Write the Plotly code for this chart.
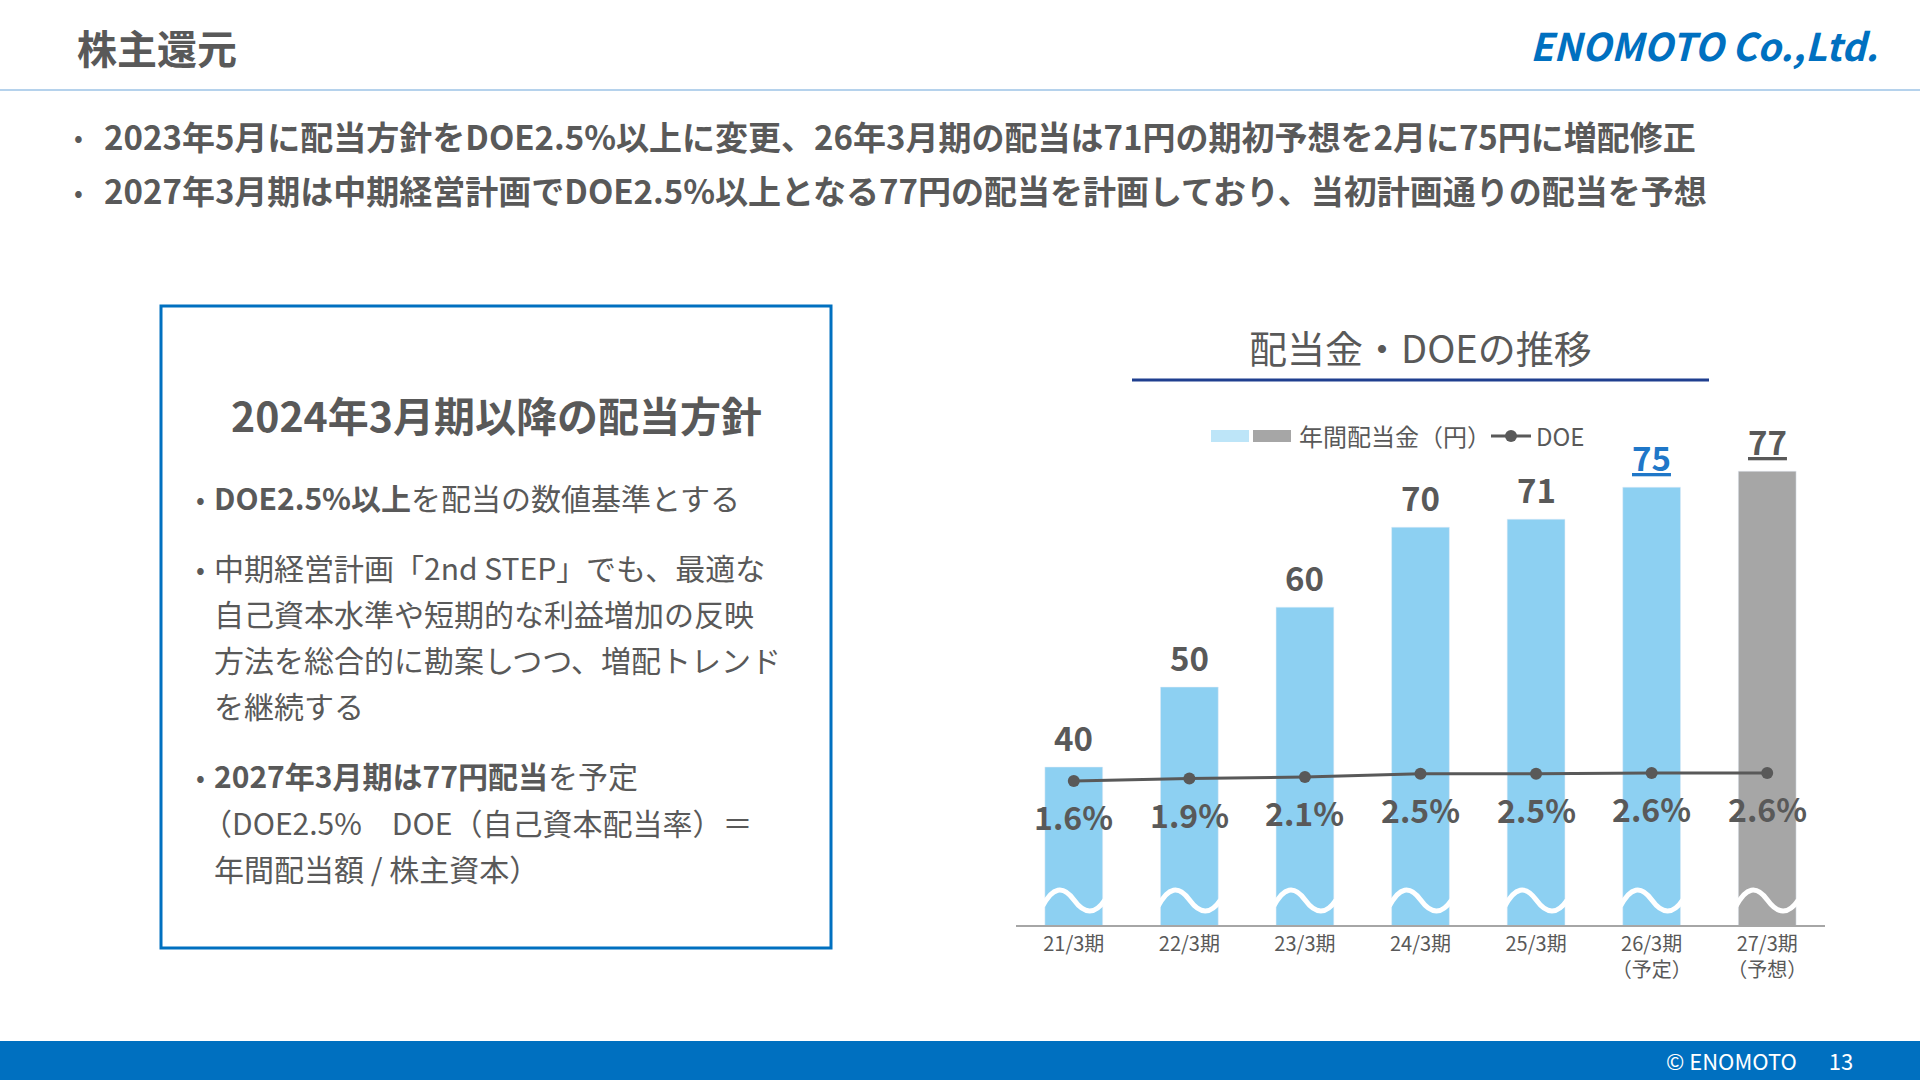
import plotly.graph_objects as go

categories = ['21/3期', '22/3期', '23/3期', '24/3期', '25/3期', '26/3期<br>（予定）', '27/3期<br>（予想）']
dividends = [40, 50, 60, 70, 71, 75, 77]
doe = [1.6, 1.9, 2.1, 2.5, 2.5, 2.6, 2.6]
bar_colors = ['#8DD0F2'] * 6 + ['#A6A6A6']

FONT = 'Noto Sans CJK JP'
GRAY = '#595959'
BLUE = '#0070C0'
W, H = 1920, 1080

xs = list(range(len(categories)))

fig = go.Figure()
fig.add_trace(go.Bar(x=xs, y=dividends, marker_color=bar_colors, width=0.5, showlegend=False,
                     hoverinfo='skip'))
fig.add_trace(go.Scatter(x=xs, y=doe, yaxis='y2', mode='lines+markers',
                         line=dict(color=GRAY, width=3), marker=dict(size=12, color=GRAY),
                         showlegend=False))

# value labels
for i, v in enumerate(dividends):
    if i == 5:
        t, col = f'<u>{v}</u>', '#1F77C8'
    elif i == 6:
        t, col = f'<u>{v}</u>', GRAY
    else:
        t, col = str(v), GRAY
    fig.add_annotation(x=i, y=v, text=f'<b>{t}</b>', showarrow=False, yanchor='bottom', yshift=4,
                       font=dict(size=33, color=col, family=FONT))
for i, d in enumerate(doe):
    fig.add_annotation(x=i, y=d, yref='y2', text=f'<b>{d}%</b>', showarrow=False, yanchor='top',
                       yshift=-10, font=dict(size=32, color=GRAY, family=FONT))

# wave break marks on bars
for i in xs:
    fig.add_shape(type='path', xref='x', yref='y', layer='above',
                  path=f'M {i-0.27},22.6 Q {i-0.14},26.2 {i},23.4 T {i+0.27},23.4',
                  line=dict(color='white', width=5))


def box(**kw):
    fig.add_shape(xref='paper', yref='paper', **kw)


box(type='line', x0=0, x1=1, y0=1-90/H, y1=1-90/H, line=dict(color='#9DC3E6', width=1.5))
box(type='rect', x0=161/W, x1=831/W, y0=1-948/H, y1=1-306/H, line=dict(color=BLUE, width=3))
box(type='line', x0=1132/W, x1=1709/W, y0=1-380/H, y1=1-380/H, line=dict(color='#1F3F8F', width=3))
box(type='rect', x0=0, x1=1, y0=0, y1=1-1041/H, fillcolor=BLUE, line=dict(width=0))
# legend
box(type='rect', x0=1211/W, x1=1249/W, y0=1-442/H, y1=1-430/H, fillcolor='#BDE5F8', line=dict(width=0))
box(type='rect', x0=1253/W, x1=1291/W, y0=1-442/H, y1=1-430/H, fillcolor='#A6A6A6', line=dict(width=0))
box(type='line', x0=1491/W, x1=1531/W, y0=1-436/H, y1=1-436/H, line=dict(color=GRAY, width=3))
box(type='circle', x0=1505/W, x1=1517/W, y0=1-442/H, y1=1-430/H, fillcolor=GRAY, line=dict(width=0))


def txt(x, y, s, size, color=GRAY, anchor='left', bold=False):
    fig.add_annotation(xref='paper', yref='paper', x=x/W, y=1-y/H, text=f'<b>{s}</b>' if bold else s,
                       showarrow=False, xanchor=anchor, yanchor='middle',
                       font=dict(size=size, color=color, family=FONT))


txt(75, 47, '株主還元', 40, bold=True)
txt(1880, 44, '<i>ENOMOTO Co.,Ltd.</i>', 38, color='#0070C0', anchor='right', bold=True)
txt(72, 136, '•', 26)
txt(102, 136, '2023年5月に配当方針をDOE2.5%以上に変更、26年3月期の配当は71円の期初予想を2月に75円に増配修正', 33, bold=True)
txt(72, 190, '•', 26)
txt(102, 190, '2027年3月期は中期経営計画でDOE2.5%以上となる77円の配当を計画しており、当初計画通りの配当を予想', 33, bold=True)

txt(496, 414, '2024年3月期以降の配当方針', 41, anchor='center', bold=True)
txt(194, 497, '•', 26)
txt(212, 497, '<b>DOE2.5%以上</b>を配当の数値基準とする', 30)
txt(194, 567, '•', 26)
txt(212, 567, '中期経営計画「2nd STEP」でも、最適な', 30)
txt(212, 613, '自己資本水準や短期的な利益増加の反映', 30)
txt(212, 659, '方法を総合的に勘案しつつ、増配トレンド', 30)
txt(212, 705, 'を継続する', 30)
txt(194, 775, '•', 26)
txt(212, 775, '<b>2027年3月期は77円配当</b>を予定', 30)
txt(200, 822, '（DOE2.5%　DOE（自己資本配当率）＝', 30)
txt(212, 868, '年間配当額 / 株主資本）', 30)

txt(1420, 346, '配当金・DOEの推移', 38, anchor='center')
txt(1297, 436, '年間配当金（円）', 24)
txt(1534, 436, 'DOE', 24)

txt(1855, 1060, '© ENOMOTO　  13', 22, color='white', anchor='right')

fig.update_layout(
    width=W, height=H, margin=dict(l=0, r=0, t=0, b=0),
    paper_bgcolor='white', plot_bgcolor='white', bargap=0.5,
    xaxis=dict(domain=[1016/W, 1825/W], tickvals=xs, ticktext=categories, range=[-0.5, 6.5],
               showline=True, linecolor='#A6A6A6', linewidth=2, ticks='',
               tickfont=dict(size=20, color=GRAY, family=FONT), showgrid=False),
    yaxis=dict(domain=[1-925/H, 1-420/H], range=[20.25, 83.4], visible=False, showgrid=False),
    yaxis2=dict(overlaying='y', range=[-16.4, 46.7], visible=False, showgrid=False),
)

fig.write_html('out.html', config={'displayModeBar': False})

# drop the default page margin so the figure fills the window
with open('out.html', encoding='utf-8') as f:
    page = f.read()
page = page.replace('<body>', '<body style="margin:0">', 1)
with open('out.html', 'w', encoding='utf-8') as f:
    f.write(page)
